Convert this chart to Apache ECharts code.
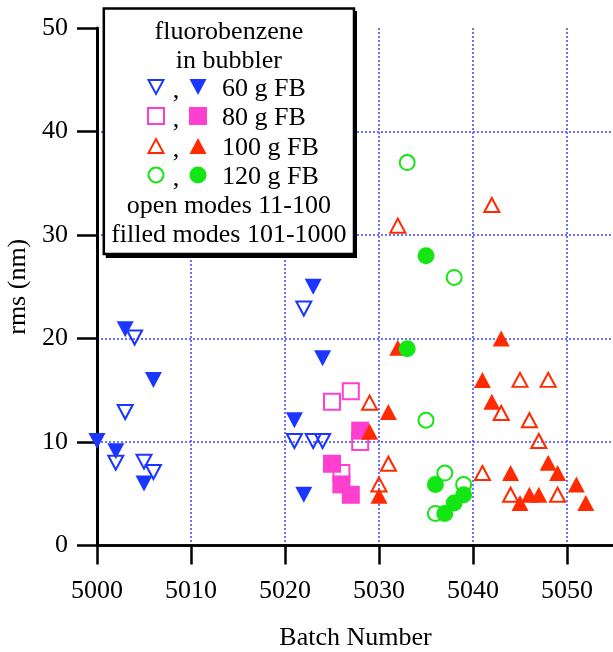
<!DOCTYPE html>
<html><head><meta charset="utf-8">
<script src="https://cdn.jsdelivr.net/npm/echarts@6/dist/echarts.min.js"></script>
<style>html,body{margin:0;padding:0;background:#fff}#c{width:613px;height:652px}</style>
</head><body><div id="c"></div>
<script>
// ---- data ----
const xTickLabels = [5000, 5010, 5020, 5030, 5040, 5050];
const yTickLabels = [0, 10, 20, 30, 40, 50];

const fb60OpenX   = [5002, 5003, 5004, 5005, 5006, 5021, 5022, 5023, 5024];
const fb60OpenY   = [8.0, 12.9, 20.1, 8.1, 7.1, 10.1, 22.9, 10.1, 10.1];
const fb60FilledX = [5000, 5002, 5003, 5005, 5006, 5021, 5022, 5023, 5024];
const fb60FilledY = [10.1, 9.1, 20.9, 6.0, 16.0, 12.1, 4.9, 25.0, 18.1];

const fb80OpenX   = [5025, 5026, 5027, 5028];
const fb80OpenY   = [13.9, 7.0, 14.9, 10.0];
const fb80FilledX = [5025, 5026, 5027, 5028];
const fb80FilledY = [7.9, 5.9, 4.9, 11.1];

const fb100OpenX   = [5029, 5030, 5031, 5032, 5041, 5042, 5043, 5044, 5045, 5046, 5047, 5048, 5049];
const fb100OpenY   = [13.8, 5.9, 7.9, 30.9, 7.0, 32.9, 12.8, 4.9, 16.0, 12.1, 10.1, 16.0, 4.9];
const fb100FilledX = [5029, 5030, 5031, 5032, 5041, 5042, 5043, 5044, 5045, 5046, 5047, 5048, 5049, 5051, 5052];
const fb100FilledY = [11.0, 4.8, 12.9, 19.1, 16.0, 13.9, 20.0, 7.0, 4.1, 4.9, 4.9, 8.0, 7.0, 5.9, 4.1];

const fb120OpenX   = [5033, 5035, 5036, 5037, 5038, 5039];
const fb120OpenY   = [37.0, 12.1, 3.1, 7.0, 25.9, 5.9];
const fb120FilledX = [5033, 5035, 5036, 5037, 5038, 5039];
const fb120FilledY = [19.0, 28.0, 5.9, 3.1, 4.1, 4.9];

const legendLines = ['fluorobenzene', 'in bubbler'];
const legendEntries = ['60 g FB', '80 g FB', '100 g FB', '120 g FB'];
const legendNotes = ['open modes 11-100', 'filled modes 101-1000'];

// ---- styling ----
const BLUE = '#1a36ff', MAG = '#ff3fcf', RED = '#ff2a00', GREEN = '#14e614';
const FONT = '"Liberation Serif", "Times New Roman", serif';
const FS = 26;

function pts(xs, ys) { return xs.map((x, i) => [x, ys[i]]); }

function openSeries(name, xs, ys, color, symbol, size, rot) {
  return {
    name, type: 'scatter', data: pts(xs, ys), symbol, symbolSize: size, symbolRotate: rot || 0,
    itemStyle: { color: 'rgba(0,0,0,0)', borderColor: color, borderWidth: 2, opacity: 1 },
    emphasis: { disabled: true }, silent: true
  };
}
function filledSeries(name, xs, ys, color, symbol, size, rot) {
  return {
    name, type: 'scatter', data: pts(xs, ys), symbol, symbolSize: size, symbolRotate: rot || 0,
    itemStyle: { color, opacity: 1 },
    emphasis: { disabled: true }, silent: true
  };
}

const series = [
  filledSeries('60f', fb60FilledX, fb60FilledY, BLUE, 'triangle', [17, 16], 180),
  openSeries('60o', fb60OpenX, fb60OpenY, BLUE, 'triangle', [15, 14], 180),
  openSeries('80o', fb80OpenX, fb80OpenY, MAG, 'rect', [16, 16]),
  filledSeries('80f', fb80FilledX, fb80FilledY, MAG, 'rect', [18, 18]),
  filledSeries('100f', fb100FilledX, fb100FilledY, RED, 'triangle', [17, 16]),
  openSeries('100o', fb100OpenX, fb100OpenY, RED, 'triangle', [15, 14]),
  openSeries('120o', fb120OpenX, fb120OpenY, GREEN, 'circle', 15),
  filledSeries('120f', fb120FilledX, fb120FilledY, GREEN, 'circle', 17)
];

// ---- legend graphic ----
const box = { x: 103.8, y: 8.6, w: 250.2, h: 245.4 };
const cx = box.x + box.w / 2;
const lineY = [32, 61, 89, 118, 148, 177, 206, 235];
const openX = 156, filledX = 198, commaX = 176, labelX = 222;
const gfx = [];
gfx.push({ type: 'rect', shape: { x: box.x + 2, y: box.y + 2.5, width: box.w + 1, height: box.h + 1.5 }, style: { fill: '#000' }, z: 100 });
gfx.push({ type: 'rect', shape: { x: box.x, y: box.y, width: box.w, height: box.h }, style: { fill: '#fff', stroke: '#000', lineWidth: 2.5 }, z: 101 });
legendLines.forEach((t, i) => gfx.push({ type: 'text', x: cx, y: lineY[i], z: 102,
  style: { text: t, font: FS + 'px ' + FONT, fill: '#000', align: 'center', verticalAlign: 'middle' } }));
legendNotes.forEach((t, i) => gfx.push({ type: 'text', x: cx, y: lineY[6 + i], z: 102,
  style: { text: t, font: FS + 'px ' + FONT, fill: '#000', align: 'center', verticalAlign: 'middle' } }));
const legendColors = [BLUE, MAG, RED, GREEN];
legendEntries.forEach((t, i) => {
  const y = lineY[2 + i] - 2;
  const c = legendColors[i];
  gfx.push({ type: 'text', x: labelX, y: y + 2, z: 102,
    style: { text: t, font: FS + 'px ' + FONT, fill: '#000', align: 'left', verticalAlign: 'middle' } });
  gfx.push({ type: 'text', x: commaX, y: y + 4, z: 102,
    style: { text: ',', font: FS + 'px ' + FONT, fill: '#000', align: 'center', verticalAlign: 'middle' } });
  const mk = (xc, filled) => {
    const st = filled ? { fill: c } : { fill: 'none', stroke: c, lineWidth: 2 };
    if (i === 0) {
      const w = filled ? 8.5 : 7.5, h = filled ? 8 : 7;
      return { type: 'polygon', shape: { points: [[xc - w, y - h], [xc + w, y - h], [xc, y + h]] }, style: st, z: 102 };
    }
    if (i === 2) {
      const w = filled ? 8.5 : 7.5, h = filled ? 8 : 7;
      return { type: 'polygon', shape: { points: [[xc - w, y + h], [xc + w, y + h], [xc, y - h]] }, style: st, z: 102 };
    }
    if (i === 1) {
      const s = filled ? 18 : 16;
      return { type: 'rect', shape: { x: xc - s / 2, y: y - s / 2, width: s, height: s }, style: st, z: 102 };
    }
    return { type: 'circle', shape: { cx: xc, cy: y, r: filled ? 8.5 : 7.5 }, style: st, z: 102 };
  };
  gfx.push(mk(openX, false));
  gfx.push(mk(filledX, true));
});

const gridLine = { show: true, showMinLine: false, showMaxLine: false,
  lineStyle: { color: '#7070ff', width: 2, type: [2, 2] } };
const chart = echarts.init(document.getElementById('c'), null, { renderer: 'canvas' });
chart.setOption({
  animation: false,
  backgroundColor: '#fff',
  grid: { left: 97, right: -1, top: 28, bottom: 106.5, containLabel: false, outerBoundsMode: 'none' },
  xAxis: [{
    type: 'value', min: xTickLabels[0], max: 5055, interval: 10, position: 'bottom',
    axisLine: { show: true, onZero: false, lineStyle: { color: '#000', width: 2.5 } },
    axisTick: { show: true, inside: false, length: 19, lineStyle: { color: '#000', width: 2.5 } },
    axisLabel: { show: true, margin: 33, color: '#000', fontFamily: FONT, fontSize: FS, showMaxLabel: false,
      formatter: v => xTickLabels.includes(v) ? String(v) : '' },
    splitLine: gridLine,
    name: 'Batch Number', nameLocation: 'middle', nameGap: 80,
    nameTextStyle: { color: '#000', fontFamily: FONT, fontSize: FS }
  }, {
    type: 'value', min: xTickLabels[0], max: 5055, position: 'top',
    axisLine: { show: true, lineStyle: { color: '#000', width: 2.5 } },
    axisTick: { show: false }, axisLabel: { show: false }, splitLine: { show: false }
  }],
  yAxis: {
    type: 'value', min: yTickLabels[0], max: yTickLabels[yTickLabels.length - 1], interval: 10,
    axisLine: { show: true, onZero: false, lineStyle: { color: '#000', width: 3 } },
    axisTick: { show: true, inside: false, length: 20, lineStyle: { color: '#000', width: 2.5 } },
    axisLabel: { show: true, margin: 29, color: '#000', fontFamily: FONT, fontSize: FS,
      formatter: v => yTickLabels.includes(v) ? String(v) : '' },
    splitLine: gridLine,
    name: 'rms (nm)', nameLocation: 'middle', nameGap: 64, nameRotate: 90,
    nameTextStyle: { color: '#000', fontFamily: FONT, fontSize: FS }
  },
  series,
  graphic: gfx
});
</script></body></html>
